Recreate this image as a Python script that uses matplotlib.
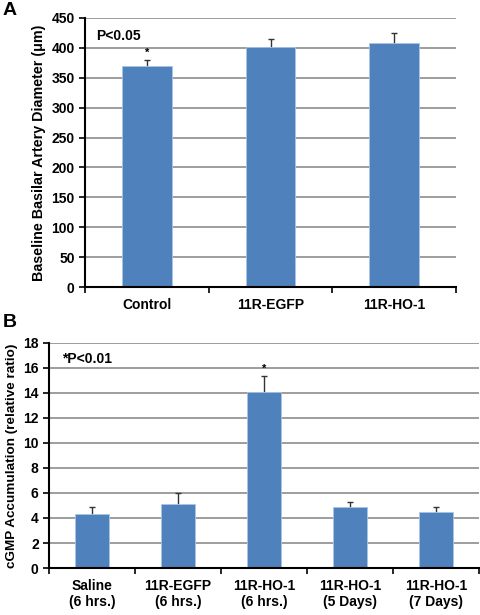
import matplotlib
matplotlib.use('Agg')
import matplotlib.pyplot as plt
import numpy as np

# panel A data
cats_a = ['Control', '11R-EGFP', '11R-HO-1']
vals_a = [369, 402, 408]
err_a = [11, 13, 17]
sig_a = [True, False, False]

# panel B data
cats_b = ['Saline\n(6 hrs.)', '11R-EGFP\n(6 hrs.)', '11R-HO-1\n(6 hrs.)',
          '11R-HO-1\n(5 Days)', '11R-HO-1\n(7 Days)']
vals_b = [4.3, 5.1, 14.05, 4.85, 4.45]
err_b = [0.6, 0.9, 1.3, 0.45, 0.45]
sig_b = [False, False, True, False, False]

plt.rcParams['font.family'] = ['Liberation Sans', 'DejaVu Sans']
plt.rcParams['font.weight'] = 'bold'
plt.rcParams['axes.labelweight'] = 'bold'

bar_color = '#4f81bd'
grid_color = '#8c8c8c'

fig = plt.figure(figsize=(4.81, 6.15), dpi=100)


def draw_panel(ax, cats, vals, errs, sigs, ymax, step, ylabel, ylfs, note):
    x = np.arange(len(cats))
    ax.set_axisbelow(True)
    # error bars behind the bars, so only the upper half shows
    ax.errorbar(x, vals, yerr=errs, fmt='none',
                ecolor='#333333', elinewidth=1, capsize=2.5, capthick=1, zorder=1.5)
    ax.bar(x, vals, width=0.4, color=bar_color, edgecolor='#a9c4e6', linewidth=0.6, zorder=2)
    for xi, v, e, s in zip(x, vals, errs, sigs):
        if s:
            ax.text(xi, v + e + ymax * 0.008, '*', ha='center', va='bottom', fontsize=8)
    ax.set_xlim(-0.5, len(cats) - 0.5)
    ax.set_ylim(0, ymax)
    ax.set_yticks(np.arange(0, ymax + step / 2, step))
    ax.yaxis.grid(True, color=grid_color, linewidth=1.2)
    ax.set_xticks(x)
    ax.set_xticklabels(cats, fontsize=10, fontweight='bold')
    ax.set_xticks(np.arange(-0.5, len(cats)), minor=True)
    ax.tick_params(axis='x', which='major', length=0, pad=8)
    ax.tick_params(axis='x', which='minor', length=4, width=1.2, direction='out')
    ax.tick_params(axis='y', length=4, width=1.2, labelsize=10)
    for lab in ax.get_yticklabels():
        lab.set_fontweight('bold')
    ax.spines['top'].set_visible(False)
    ax.spines['right'].set_visible(False)
    ax.spines['left'].set_linewidth(1.5)
    ax.spines['bottom'].set_linewidth(1.5)
    ax.set_ylabel(ylabel, fontsize=ylfs, fontweight='bold')
    ax.text(0.03, 0.96, note, transform=ax.transAxes, ha='left', va='top',
            fontsize=10, fontweight='bold')


ax1 = fig.add_axes([0.177, 0.533, 0.771, 0.438])
draw_panel(ax1, cats_a, vals_a, err_a, sig_a, 450, 50,
           'Baseline Basilar Artery Diameter (\u03bcm)', 10.3, 'P<0.05')

ax2 = fig.add_axes([0.102, 0.0764, 0.894, 0.366])
draw_panel(ax2, cats_b, vals_b, err_b, sig_b, 18, 2,
           'cGMP Accumulation (relative ratio)', 9.7, '*P<0.01')

fig.text(0.005, 0.997, 'A', ha='left', va='top', fontsize=14, fontweight='bold')
fig.text(0.005, 0.49, 'B', ha='left', va='top', fontsize=14, fontweight='bold')

fig.savefig('out.png', dpi=100)
